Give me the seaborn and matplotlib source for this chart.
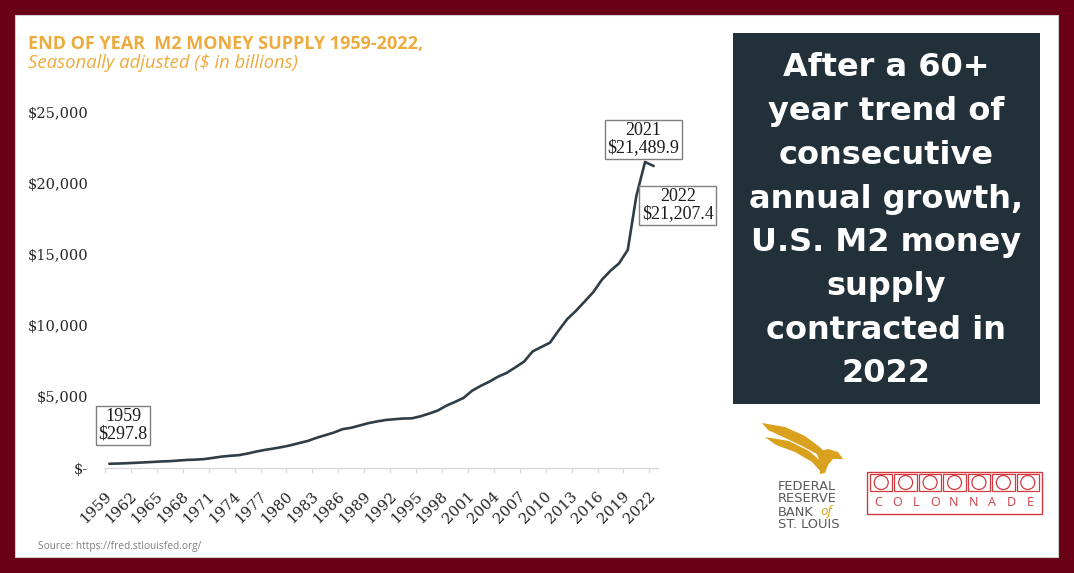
import matplotlib
matplotlib.use("Agg")
import matplotlib.pyplot as plt
import matplotlib.transforms as mtransforms
import seaborn as sns
import pandas as pd
from matplotlib.patches import Rectangle, Circle, Polygon

# ---------------- data ----------------
years = list(range(1959, 2023))
m2_billions = [
    297.8, 312.4, 335.5, 362.7, 393.2, 424.7, 459.2, 480.2, 524.8, 566.8,
    587.9, 626.5, 710.3, 802.3, 855.5, 902.1, 1016.2, 1152.0, 1270.3, 1366.0,
    1473.7, 1599.8, 1755.4, 1905.9, 2123.5, 2306.4, 2492.1, 2728.0, 2826.4, 2988.2,
    3152.5, 3271.8, 3372.2, 3424.7, 3474.5, 3486.4, 3629.5, 3818.6, 4032.9, 4375.2,
    4638.0, 4925.0, 5433.8, 5772.0, 6067.3, 6418.3, 6681.9, 7071.6, 7471.6, 8192.1,
    8496.0, 8801.9, 9660.1, 10459.7, 11035.0, 11684.9, 12346.3, 13215.6, 13853.9, 14376.8,
    15316.7, 19122.7, 21489.9, 21207.4,
]
tick_years = list(range(1959, 2023, 3))
y_ticks = [0, 5000, 10000, 15000, 20000, 25000]
y_tick_labels = ["$-", "$5,000", "$10,000", "$15,000", "$20,000", "$25,000"]
title = "END OF YEAR  M2 MONEY SUPPLY 1959-2022,"
subtitle = "Seasonally adjusted ($ in billions)"
headline = ["After a 60+", "year trend of", "consecutive", "annual growth,",
            "U.S. M2 money", "supply", "contracted in", "2022"]
source = "Source: https://fred.stlouisfed.org/"
fed_lines = ["FEDERAL", "RESERVE", "BANK", "ST. LOUIS"]
colonnade = "COLONNADE"

# ---------------- style ----------------
sns.set_theme(style="white")
SANS = ["Open Sans", "DejaVu Sans"]
WIDE = ["DejaVu Sans"]
SERIF = ["Liberation Serif", "DejaVu Serif"]
TICKSERIF = ["DejaVu Serif"]
GOLD = "#ecab3c"
LINE = "#2f3e46"
W, H = 1074, 573

fig = plt.figure(figsize=(W / 100, H / 100), dpi=100, facecolor="#6a0016")

# background/overlay axes in pixel coordinates
bg = fig.add_axes([0, 0, 1, 1], zorder=0)
bg.set_xlim(0, W)
bg.set_ylim(H, 0)
bg.axis("off")
bg.add_patch(Rectangle((15, 15), 1043, 542, facecolor="white", edgecolor="#cfcfcf", lw=0.8))
bg.add_patch(Rectangle((733, 33), 307, 371, facecolor="#22303a", edgecolor="none"))

bg.text(28, 44, title, color=GOLD, fontsize=13, fontweight="bold", family=SANS,
        va="center", ha="left")
bg.text(28, 63, subtitle, color=GOLD, fontsize=13.3, style="italic", family=SANS,
        va="center", ha="left")
bg.text(38, 547, source, color="#7f7f7f", fontsize=7.3, family=SANS, va="center", ha="left")

for i, line in enumerate(headline):
    bg.text(886.5, 68 + i * 43.7, line, color="white", fontsize=23, fontweight="bold",
            family=WIDE, ha="center", va="center")

# Federal Reserve Bank of St. Louis logo (approximation)
EAGLE = "#d9a11e"
bg.add_patch(Polygon([(762, 423), (785, 427), (805, 436), (821, 448), (829, 458),
                      (817, 454), (800, 445), (781, 436), (768, 430)],
                     closed=True, facecolor=EAGLE, edgecolor="none"))
bg.add_patch(Polygon([(765, 437), (789, 441), (809, 451), (823, 463), (822, 473),
                      (812, 462), (795, 452), (776, 445)],
                     closed=True, facecolor=EAGLE, edgecolor="none"))
bg.add_patch(Polygon([(816, 452), (828, 449), (838, 452), (843, 459), (838, 459),
                      (833, 459), (828, 465), (825, 473), (820, 474), (820, 462)],
                     closed=True, facecolor=EAGLE, edgecolor="none"))
for i, line in enumerate(fed_lines):
    bg.text(778, 486 + i * 13, line, color="#5a5a5a", fontsize=9.4, family=WIDE,
            ha="left", va="center")
bg.text(820, 512, "of", color=EAGLE, fontsize=9.5, style="italic", family=SANS,
        ha="left", va="center")

# Colonnade logo (approximation)
RED = "#d23a40"
bg.add_patch(Rectangle((867, 472), 175, 42, facecolor="none", edgecolor=RED, lw=1))
sq_w = 171 / 7
for i in range(7):
    x0 = 869 + i * sq_w
    bg.add_patch(Rectangle((x0 + 1, 474), sq_w - 2, 17, facecolor="none", edgecolor=RED, lw=0.9))
    bg.add_patch(Circle((x0 + sq_w / 2, 482.5), 7, facecolor="none", edgecolor=RED, lw=0.9))
for i, ch in enumerate(colonnade):
    bg.text(878 + i * 19, 502, ch, color=RED, fontsize=9, family=SANS,
            ha="center", va="center")

# ---------------- chart ----------------
L, R, T, B = 105, 658, 112, 468
ax = fig.add_axes([L / W, (H - B) / H, (R - L) / W, (B - T) / H], zorder=1)
ax.patch.set_alpha(0)

df = pd.DataFrame({"Year": years, "M2": m2_billions})
sns.lineplot(data=df, x="Year", y="M2", ax=ax, color=LINE, lw=1.9)

ax.set_xlim(years[0] - 0.5, years[-1] + 0.5)
ax.set_ylim(0, 25000)
ax.set_xlabel("")
ax.set_ylabel("")
for s in ["left", "top", "right"]:
    ax.spines[s].set_visible(False)
ax.spines["bottom"].set_color("#d9d9d9")
ax.spines["bottom"].set_linewidth(1.0)

ax.set_xticks([y - 0.5 for y in tick_years])
ax.set_xticklabels([str(y) for y in tick_years], rotation=45, ha="right",
                   va="center", rotation_mode="anchor", family=TICKSERIF,
                   fontsize=10.8, color="#262626")
ax.tick_params(axis="x", length=3.6, width=0.9, color="#d9d9d9", pad=15, direction="out",
               bottom=True)
shift = mtransforms.ScaledTranslation(4 / 100, 0, fig.dpi_scale_trans)
for lbl in ax.get_xticklabels():
    lbl.set_transform(lbl.get_transform() + shift)
ax.set_yticks(y_ticks)
ax.set_yticklabels(y_tick_labels, family=TICKSERIF, fontsize=10.5, color="#262626")
ax.tick_params(axis="y", length=0, pad=12)
ax.grid(False)

box = dict(boxstyle="square,pad=0.15", facecolor="white", edgecolor="#7f7f7f", lw=1)


def label(i):
    return f"{years[i]}\n${m2_billions[i]:,.1f}"


kw = dict(ha="center", va="center", family=SERIF, fontsize=13, color="#1a1a1a",
          bbox=box, linespacing=1.0, clip_on=False)
ax.text(1960.6, 3000, label(0), **kw)
ax.text(2020.8, 23080, label(-2), **kw)
ax.text(2024.8, 18450, label(-1), **kw)

fig.savefig("out.png", dpi=100, facecolor=fig.get_facecolor())
